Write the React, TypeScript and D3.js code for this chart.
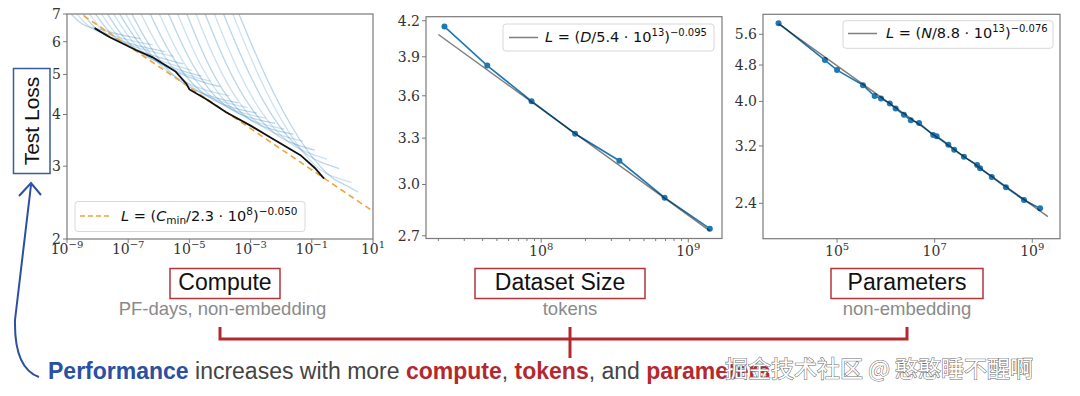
import React from "react";
import * as d3 from "d3";

// ---- Compute panel: [log10 PF-days, test loss] ----
const computeTicks = [-9, -7, -5, -3, -1, 1];
const computeLossTicks = [2, 3, 4, 5, 6, 7];
const computeFit = { scale: 2.3e8, exponent: 0.05 };
const computeFrontier: [number, number][] = [
  [-8.1, 6.47], [-7.6, 6.15], [-6.75, 5.73], [-6.2, 5.5], [-5.45, 5.08],
  [-5.1, 4.75], [-5.0, 4.6], [-4.46, 4.36], [-3.8, 4.05], [-3.0, 3.76],
  [-2.46, 3.56], [-1.37, 3.19], [-0.9, 2.97], [-0.6, 2.8],
];
const computeCurves: [number, number][][] = [
  [[-8.9, 7.05], [-8.63, 6.7], [-8.32, 6.5], [-8.0, 6.45], [-7.3, 6.24], [-6.6, 6.1]],
  [[-8.7, 7.05], [-8.4, 6.61], [-8.05, 6.35], [-7.7, 6.27], [-6.95, 6.04], [-6.2, 5.9]],
  [[-8.5, 7.05], [-8.14, 6.5], [-7.72, 6.17], [-7.3, 6.05], [-6.55, 5.82], [-5.8, 5.68]],
  [[-8.3, 7.05], [-7.91, 6.43], [-7.46, 6.05], [-7.0, 5.9], [-6.25, 5.67], [-5.5, 5.53]],
  [[-8.1, 7.05], [-7.65, 6.33], [-7.13, 5.88], [-6.6, 5.7], [-5.9, 5.46], [-5.2, 5.3]],
  [[-7.9, 7.05], [-7.42, 6.24], [-6.86, 5.74], [-6.3, 5.53], [-5.6, 5.28], [-4.9, 5.11]],
  [[-7.7, 7.05], [-7.19, 6.15], [-6.6, 5.59], [-6.0, 5.35], [-5.3, 5.11], [-4.6, 4.95]],
  [[-7.5, 7.05], [-6.96, 6.08], [-6.33, 5.46], [-5.7, 5.2], [-5.0, 4.96], [-4.3, 4.81]],
  [[-7.3, 7.05], [-6.73, 6.0], [-6.07, 5.34], [-5.4, 5.05], [-4.7, 4.82], [-4.0, 4.67]],
  [[-7.1, 7.05], [-6.5, 5.85], [-5.8, 5.09], [-5.1, 4.75], [-4.4, 4.56], [-3.7, 4.44]],
  [[-6.9, 7.05], [-6.27, 5.75], [-5.54, 4.93], [-4.8, 4.55], [-4.1, 4.37], [-3.4, 4.27]],
  [[-6.6, 7.05], [-5.97, 5.69], [-5.24, 4.83], [-4.5, 4.43], [-3.8, 4.26], [-3.1, 4.16]],
  [[-6.3, 7.05], [-5.67, 5.63], [-4.94, 4.72], [-4.2, 4.3], [-3.5, 4.13], [-2.8, 4.03]],
  [[-6.0, 7.05], [-5.37, 5.57], [-4.64, 4.62], [-3.9, 4.18], [-3.2, 4.01], [-2.5, 3.92]],
  [[-5.7, 7.05], [-5.07, 5.51], [-4.34, 4.52], [-3.6, 4.06], [-2.9, 3.9], [-2.2, 3.81]],
  [[-5.4, 7.05], [-4.77, 5.45], [-4.04, 4.42], [-3.3, 3.94], [-2.6, 3.78], [-1.9, 3.69]],
  [[-5.1, 7.05], [-4.47, 5.39], [-3.74, 4.33], [-3.0, 3.83], [-2.3, 3.67], [-1.6, 3.58]],
  [[-4.8, 7.05], [-4.14, 5.32], [-3.37, 4.21], [-2.6, 3.69], [-1.95, 3.54], [-1.3, 3.45]],
  [[-4.5, 7.05], [-3.81, 5.25], [-3.0, 4.1], [-2.2, 3.55], [-1.55, 3.38], [-0.9, 3.28]],
  [[-4.2, 7.05], [-3.48, 5.18], [-2.64, 3.98], [-1.8, 3.41], [-1.15, 3.23], [-0.5, 3.12]],
  [[-3.9, 7.05], [-3.12, 5.09], [-2.21, 3.82], [-1.3, 3.22], [-0.7, 3.06], [-0.1, 2.96]],
  [[-3.6, 7.05], [-2.76, 4.94], [-1.78, 3.59], [-0.8, 2.92], [-0.25, 2.82], [0.3, 2.74]],
  [[-3.4, 7.05], [-2.5, 4.87], [-1.45, 3.46], [-0.4, 2.79], [0.05, 2.72], [0.5, 2.6]],
];

// ---- Dataset size panel ----
const datasetTokens = [2.2e7, 4.3e7, 8.6e7, 1.7e8, 3.4e8, 6.9e8, 1.4e9];
const datasetLoss = [4.15, 3.83, 3.56, 3.33, 3.15, 2.92, 2.74];
const datasetFit = { scale: 5.4e13, exponent: 0.095, from: 2.0e7, to: 1.4e9 };
const datasetLossTicks = [2.7, 3.0, 3.3, 3.6, 3.9, 4.2];
const datasetTicks = [8, 9];

// ---- Parameters panel (log10 N) ----
const paramLogN = [3.8, 4.75, 5.0, 5.53, 5.77, 5.9, 6.08, 6.2, 6.37, 6.51, 6.68, 6.97, 7.04, 7.28, 7.4, 7.6, 7.87, 7.93, 8.17, 8.46, 8.83, 9.16];
const paramLoss = [5.92, 4.92, 4.68, 4.34, 4.11, 4.06, 3.96, 3.86, 3.74, 3.64, 3.59, 3.38, 3.36, 3.22, 3.14, 3.03, 2.91, 2.86, 2.74, 2.6, 2.44, 2.34];
const paramFit = { scale: 8.8e13, exponent: 0.076, from: 10 ** 3.8, to: 10 ** 9.32 };
const paramLossTicks = [2.4, 3.2, 4.0, 4.8, 5.6];
const paramTicks = [5, 7, 9];

const SERIF = "'DejaVu Serif', serif";
const SANS = "'DejaVu Sans', sans-serif";
const HELV = "'Liberation Sans', Arial, sans-serif";
const SPINE = "#7a7a7a";
const BLUE = "#1f77b4";

const sup = (e: number) => (e < 0 ? "\u2212" + Math.abs(e) : String(e));

function PowLabel({ x, y, exp }: { x: number; y: number; exp: number }) {
  return (
    <text x={x} y={y} textAnchor="middle" fontFamily={SERIF} fontSize={14} fill="#333">
      10<tspan dy={-6} fontSize={10}>{sup(exp)}</tspan>
    </text>
  );
}

function Frame({ x0, x1, y0, y1 }: { x0: number; x1: number; y0: number; y1: number }) {
  return <rect x={x0} y={y0} width={x1 - x0} height={y1 - y0} fill="none" stroke={SPINE} strokeWidth={1.2} />;
}

function YTicks({ ticks, y, x0, fmt }: { ticks: number[]; y: (v: number) => number; x0: number; fmt: (v: number) => string }) {
  return (
    <g>
      {ticks.map((t) => (
        <g key={t}>
          <line x1={x0 - 4} x2={x0} y1={y(t)} y2={y(t)} stroke={SPINE} />
          <text x={x0 - 6} y={y(t)} dy="0.35em" textAnchor="end" fontFamily={SERIF} fontSize={14} fill="#333">
            {fmt(t)}
          </text>
        </g>
      ))}
    </g>
  );
}

export default function App() {
  // compute panel
  const L = { x0: 67, x1: 373, y0: 14, y1: 239 };
  const xC = d3.scaleLog().domain([1e-9, 1e1]).range([L.x0, L.x1]);
  const yC = d3.scaleLog().domain([2, 7]).range([L.y1, L.y0]);
  const curve = d3
    .line<[number, number]>()
    .x((d) => xC(10 ** d[0]))
    .y((d) => yC(d[1]))
    .curve(d3.curveBasis);
  const frontier = d3
    .line<[number, number]>()
    .x((d) => xC(10 ** d[0]))
    .y((d) => yC(d[1]));
  const fitC = (c: number) => Math.pow(c / computeFit.scale, -computeFit.exponent);
  const cDomain = xC.domain();

  // dataset panel
  const M = { x0: 426, x1: 722, y0: 16.7, y1: 238.5 };
  const xD = d3.scaleLog().domain([10 ** 7.217, 10 ** 9.229]).range([M.x0, M.x1]);
  const yD = d3.scaleLog().domain([2.685, 4.235]).range([M.y1, M.y0]);
  const fitD = (d: number) => Math.pow(d / datasetFit.scale, -datasetFit.exponent);
  const dPts = datasetTokens.map((d, i) => [xD(d), yD(datasetLoss[i])] as [number, number]);
  const minorD: number[] = [];
  [1e7, 1e8, 1e9].forEach((b) => d3.range(2, 10).forEach((k) => {
    const v = b * k;
    if (v > xD.domain()[0] && v < xD.domain()[1]) minorD.push(v);
  }));

  // parameters panel
  const R = { x0: 763, x1: 1060, y0: 14.3, y1: 238.7 };
  const xP = d3.scaleLog().domain([10 ** 3.482, 10 ** 9.568]).range([R.x0, R.x1]);
  const yP = d3.scaleLog().domain([2.01, 6.19]).range([R.y1, R.y0]);
  const fitP = (n: number) => Math.pow(n / paramFit.scale, -paramFit.exponent);
  const pPts = paramLogN.map((n, i) => [xP(10 ** n), yP(paramLoss[i])] as [number, number]);

  const line = d3.line();

  return (
    <svg width={1080} height={396} style={{ position: "absolute", left: 0, top: 0, background: "#fff" }}>
      <defs>
        <clipPath id="clipC">
          <rect x={L.x0} y={L.y0} width={L.x1 - L.x0} height={L.y1 - L.y0} />
        </clipPath>
      </defs>

      {/* ---------- Compute panel ---------- */}
      <g clipPath="url(#clipC)">
        {computeCurves.map((c, i) => (
          <path key={i} d={curve(c) || ""} fill="none" stroke={i % 2 ? "#5b9bd0" : BLUE} strokeOpacity={0.3} strokeWidth={1.3} />
        ))}
        <line
          x1={xC(cDomain[0])} y1={yC(fitC(cDomain[0]))}
          x2={xC(cDomain[1])} y2={yC(fitC(cDomain[1]))}
          stroke="#f2a43a" strokeWidth={1.6} strokeDasharray="6,4"
        />
        <path d={frontier(computeFrontier) || ""} fill="none" stroke="#111" strokeWidth={1.8} />
      </g>
      <Frame {...L} />
      <YTicks ticks={computeLossTicks} y={yC} x0={L.x0} fmt={(v) => String(v)} />
      {computeTicks.map((e) => (
        <g key={e}>
          <line x1={xC(10 ** e)} x2={xC(10 ** e)} y1={L.y1} y2={L.y1 + 4} stroke={SPINE} />
          <PowLabel x={xC(10 ** e)} y={254} exp={e} />
        </g>
      ))}
      <rect x={75} y={201.5} width={230} height={30} rx={3} fill="#fff" fillOpacity={0.85} stroke="#d8d8d8" />
      <line x1={80} x2={110} y1={216} y2={216} stroke="#f2a43a" strokeWidth={1.6} strokeDasharray="5,3" />
      <text x={121} y={221} fontFamily={SANS} fontSize={14.5} fill="#111">
        <tspan fontStyle="italic">L</tspan> = (<tspan fontStyle="italic">C</tspan>
        <tspan dy={3} fontSize={10.5}>min</tspan>
        <tspan dy={-3}>/2.3 · 10</tspan>
        <tspan dy={-6} fontSize={10.5}>8</tspan>
        <tspan dy={6}>)</tspan>
        <tspan dy={-6} fontSize={10.5}>{"\u22120.050"}</tspan>
      </text>

      {/* ---------- Dataset size panel ---------- */}
      {minorD.map((v) => (
        <line key={v} x1={xD(v)} x2={xD(v)} y1={M.y1} y2={M.y1 + 2.5} stroke={SPINE} />
      ))}
      <path d={line(dPts) || ""} fill="none" stroke={BLUE} strokeWidth={1.6} />
      {dPts.map((p, i) => (
        <circle key={i} cx={p[0]} cy={p[1]} r={3} fill={BLUE} />
      ))}
      <line
        x1={xD(datasetFit.from)} y1={yD(fitD(datasetFit.from))}
        x2={xD(datasetFit.to)} y2={yD(fitD(datasetFit.to))}
        stroke="#000" strokeOpacity={0.5} strokeWidth={1.5}
      />
      <Frame {...M} />
      <YTicks ticks={datasetLossTicks} y={yD} x0={M.x0} fmt={(v) => v.toFixed(1)} />
      {datasetTicks.map((e) => (
        <g key={e}>
          <line x1={xD(10 ** e)} x2={xD(10 ** e)} y1={M.y1} y2={M.y1 + 4} stroke={SPINE} />
          <PowLabel x={xD(10 ** e)} y={256} exp={e} />
        </g>
      ))}
      <rect x={503} y={24} width={211} height={27} rx={3} fill="#fff" fillOpacity={0.85} stroke="#d8d8d8" />
      <line x1={509} x2={538} y1={37.5} y2={37.5} stroke="#000" strokeOpacity={0.5} strokeWidth={1.5} />
      <text x={545} y={42} fontFamily={SANS} fontSize={14.5} fill="#111">
        <tspan fontStyle="italic">L</tspan> = (<tspan fontStyle="italic">D</tspan>/5.4 · 10
        <tspan dy={-6} fontSize={10}>13</tspan>
        <tspan dy={6}>)</tspan>
        <tspan dy={-6} fontSize={10}>{"\u22120.095"}</tspan>
      </text>

      {/* ---------- Parameters panel ---------- */}
      <path d={line(pPts) || ""} fill="none" stroke={BLUE} strokeWidth={1.6} />
      {pPts.map((p, i) => (
        <circle key={i} cx={p[0]} cy={p[1]} r={3} fill={BLUE} />
      ))}
      <line
        x1={xP(paramFit.from)} y1={yP(fitP(paramFit.from))}
        x2={xP(paramFit.to)} y2={yP(fitP(paramFit.to))}
        stroke="#000" strokeOpacity={0.5} strokeWidth={1.5}
      />
      <Frame {...R} />
      <YTicks ticks={paramLossTicks} y={yP} x0={R.x0} fmt={(v) => v.toFixed(1)} />
      {paramTicks.map((e) => (
        <g key={e}>
          <line x1={xP(10 ** e)} x2={xP(10 ** e)} y1={R.y1} y2={R.y1 + 4} stroke={SPINE} />
          <PowLabel x={xP(10 ** e)} y={256} exp={e} />
        </g>
      ))}
      <rect x={843} y={20.7} width={210} height={27.6} rx={3} fill="#fff" fillOpacity={0.85} stroke="#d8d8d8" />
      <line x1={848} x2={877} y1={33.5} y2={33.5} stroke="#000" strokeOpacity={0.5} strokeWidth={1.5} />
      <text x={886} y={38} fontFamily={SANS} fontSize={14.5} fill="#111">
        <tspan fontStyle="italic">L</tspan> = (<tspan fontStyle="italic">N</tspan>/8.8 · 10
        <tspan dy={-6} fontSize={10}>13</tspan>
        <tspan dy={6}>)</tspan>
        <tspan dy={-6} fontSize={10}>{"\u22120.076"}</tspan>
      </text>

      {/* ---------- annotations ---------- */}
      <rect x={13.5} y={68.5} width={36.5} height={105} fill="none" stroke="#3a5ba0" strokeWidth={1.5} />
      <text transform="translate(32,121) rotate(-90)" textAnchor="middle" dy="0.35em" fontFamily={HELV} fontSize={21} fill="#111">
        Test Loss
      </text>
      <path d="M39,377 Q14,368 15,320 L31,185" fill="none" stroke="#2a4fa3" strokeWidth={2} />
      <path d="M19,196 L31,183 L41,195" fill="none" stroke="#2a4fa3" strokeWidth={2} />

      <rect x={170} y={268.5} width={110} height={30} fill="none" stroke="#b5343a" strokeWidth={1.5} />
      <text x={225} y={290} textAnchor="middle" fontFamily={HELV} fontSize={23} fill="#111">Compute</text>
      <text x={222.5} y={315} textAnchor="middle" fontFamily={HELV} fontSize={18.5} fill="#8a8a8a">PF-days, non-embedding</text>

      <rect x={475} y={268.5} width={170} height={30} fill="none" stroke="#b5343a" strokeWidth={1.5} />
      <text x={560} y={290} textAnchor="middle" fontFamily={HELV} fontSize={23} fill="#111">Dataset Size</text>
      <text x={570} y={315} textAnchor="middle" fontFamily={HELV} fontSize={18.5} fill="#8a8a8a">tokens</text>

      <rect x={831} y={268.5} width={152} height={30} fill="none" stroke="#b5343a" strokeWidth={1.5} />
      <text x={907} y={290} textAnchor="middle" fontFamily={HELV} fontSize={23} fill="#111">Parameters</text>
      <text x={907} y={315} textAnchor="middle" fontFamily={HELV} fontSize={18.5} fill="#8a8a8a">non-embedding</text>

      <path d="M220,327 V339 H907 V327 M570,327 V358" fill="none" stroke="#b5282e" strokeWidth={3} />

      <text x={48} y={379} fontFamily={HELV} fontSize={23} fill="#444">
        <tspan fontWeight="bold" fill="#2a4fa3">Performance</tspan> increases with more{" "}
        <tspan fontWeight="bold" fill="#b5282e">compute</tspan>,{" "}
        <tspan fontWeight="bold" fill="#b5282e">tokens</tspan>, and{" "}
        <tspan fontWeight="bold" fill="#b5282e">parameters</tspan>
      </text>
      <text x={725} y={377} fontFamily="'Noto Sans CJK SC', sans-serif" fontSize={23} fill="#fff" stroke="#6e6e6e" strokeWidth={1.1} paintOrder="stroke">
        掘金技术社区 @ 憨憨睡不醒啊
      </text>
    </svg>
  );
}
